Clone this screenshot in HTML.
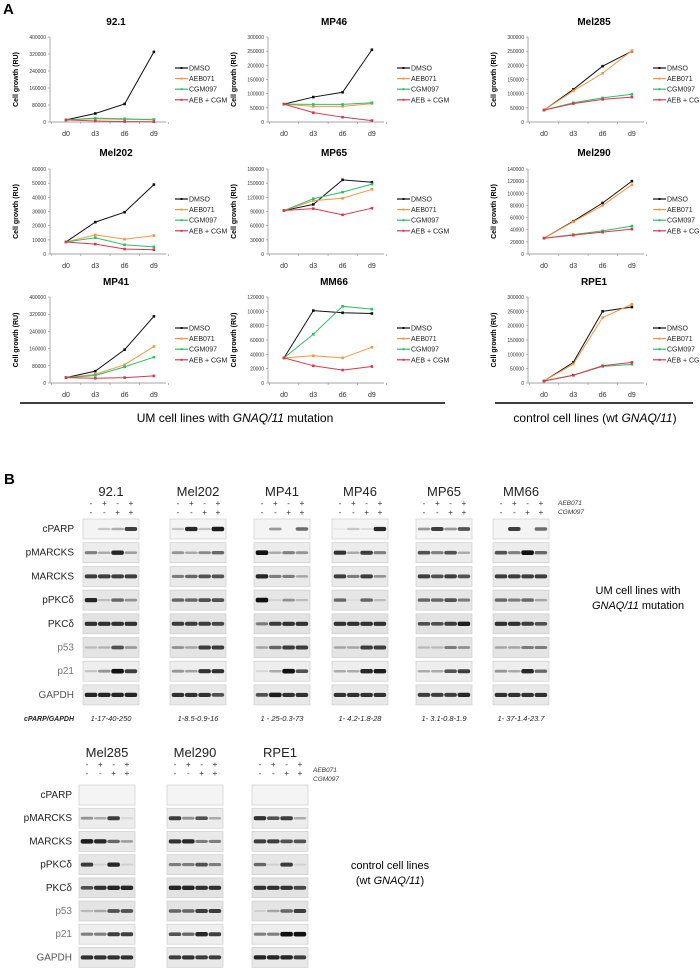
<!DOCTYPE html>
<html><head><meta charset="utf-8">
<style>
html,body{margin:0;padding:0;background:#fff;}
svg{display:block;font-family:"Liberation Sans",Arial,sans-serif;}
</style></head>
<body>
<svg id="fig" width="700" height="968" viewBox="0 0 700 968" xmlns="http://www.w3.org/2000/svg">
<text x="3" y="14" font-size="15" font-weight="bold">A</text>
<text x="4" y="484" font-size="15" font-weight="bold">B</text>
<line x1="20" y1="403" x2="445" y2="403" stroke="#000" stroke-width="1.5"/>
<line x1="495" y1="403" x2="693" y2="403" stroke="#000" stroke-width="1.5"/>
<text x="235" y="422" font-size="12" text-anchor="middle">UM cell lines with <tspan font-style="italic">GNAQ/11</tspan> mutation</text>
<text x="595" y="422" font-size="12" text-anchor="middle">control cell lines (wt <tspan font-style="italic">GNAQ/11</tspan>)</text>
<text x="638" y="594" font-size="11" text-anchor="middle">UM cell lines with</text>
<text x="638" y="609" font-size="11" text-anchor="middle"><tspan font-style="italic">GNAQ/11</tspan> mutation</text>
<text x="390" y="869" font-size="11" text-anchor="middle">control cell lines</text>
<text x="390" y="884" font-size="11" text-anchor="middle">(wt <tspan font-style="italic">GNAQ/11</tspan>)</text>
<text x="74" y="721" font-size="7" font-style="italic" font-weight="bold" text-anchor="end" fill="#222">cPARP/GAPDH</text>
</svg>
<script>
const NS="http://www.w3.org/2000/svg";
const svg=document.getElementById('fig');
function mk(tag,attrs,parent){const e=document.createElementNS(NS,tag);for(const k in attrs)e.setAttribute(k,attrs[k]);(parent||svg).appendChild(e);return e;}

// ---- chart data ----
const days=["d0","d3","d6","d9"];
const seriesNames=["DMSO","AEB071","CGM097","AEB + CGM"];
const seriesColors=["#111111","#f79646","#2fbf6a","#d8394c"];
const panelNames=["92.1","MP46","Mel285","Mel202","MP65","Mel290","MP41","MM66","RPE1"];
const panelMax=[400000,300000,300000,60000,180000,140000,400000,120000,300000];
const panelStep=[80000,50000,50000,10000,30000,20000,80000,20000,50000];
const dmso=[[10000,40000,85000,330000],[63000,88000,105000,255000],[42000,115000,197000,250000],[8500,22500,29500,49000],[92000,105000,157000,152000],[26000,54000,84000,120000],[25000,55000,155000,310000],[35000,101000,98000,97000],[7000,72000,250000,265000]];
const aeb=[[10000,15000,12000,13000],[63000,55000,55000,65000],[42000,110000,172000,252000],[8500,13500,10500,13000],[92000,113000,118000,137000],[26000,53000,80000,114000],[25000,40000,85000,170000],[35000,38000,35000,50000],[7000,66000,228000,275000]];
const cgm=[[10000,18000,15000,10000],[63000,62000,62000,68000],[42000,68000,85000,98000],[8500,11500,6500,5000],[92000,117000,131000,148000],[26000,32000,38000,46000],[25000,35000,75000,120000],[35000,68000,107000,103000],[7000,27000,58000,65000]];
const combo=[[10000,5000,2000,1000],[63000,33000,17000,5000],[42000,65000,80000,88000],[8500,7000,3500,3000],[92000,96000,83000,97000],[26000,31000,36000,41000],[25000,22000,25000,33000],[35000,24000,18000,23000],[7000,27000,60000,72000]];

const colX=[50,268,528], legX=[175,397,653];
const rowTop=[37,169,297], rowBot=[122,254,383], titleY=[25,156,285], legY=[68,199,328];

panelNames.forEach((name,p)=>{
  const c=p%3,r=Math.floor(p/3);
  const x0=colX[c], top=rowTop[r], bot=rowBot[r], W=116;
  const g=mk('g',{});
  
  
  const yS=v=>bot-(v/panelMax[p])*(bot-top);
  const xS=i=>x0+16+i*29.3;
  const t=mk('text',{x:x0+66,y:titleY[r],'font-size':10,'font-weight':'bold','text-anchor':'middle'},g);t.textContent=name;
  
  
  mk('line',{x1:x0,y1:top,x2:x0,y2:bot,stroke:'#888','stroke-width':0.7},g);
  mk('line',{x1:x0,y1:bot,x2:x0+W,y2:bot,stroke:'#888','stroke-width':0.7},g);
  for(let v=0;v<=panelMax[p]+1;v+=panelStep[p]){
    const y=yS(v);
    mk('line',{x1:x0-2,y1:y,x2:x0,y2:y,stroke:'#888','stroke-width':0.6},g);
    const tl=mk('text',{x:x0-4,y:y+2,'font-size':5,'text-anchor':'end',fill:'#333'},g);tl.textContent=v;
    
    
  }
  for(let i=0;i<=4;i++){const x=x0+1.5+i*29.3;mk('line',{x1:x,y1:bot,x2:x,y2:bot+2,stroke:'#888','stroke-width':0.6},g);}
  days.forEach((d,i)=>{const tl=mk('text',{x:xS(i),y:bot+14,'font-size':7,'text-anchor':'middle',fill:'#333'},g);tl.textContent=d;
    
    });
  const yl=mk('text',{x:0,y:0,'font-size':7,'font-weight':'bold','text-anchor':'middle',transform:`translate(${x0-32},${(top+bot)/2}) rotate(-90)`},g);
  yl.textContent='Cell growth (RU)';
  
  
  [dmso,aeb,cgm,combo].forEach((ser,s)=>{
    const vals=ser[p];
    const pl=mk('polyline',{points:vals.map((v,i)=>xS(i)+','+yS(v)).join(' '),fill:'none',stroke:seriesColors[s],'stroke-width':1},g);
    
    
    vals.forEach((v,i)=>{const m=mk('rect',{x:xS(i)-1.3,y:yS(v)-1.3,width:2.6,height:2.6,fill:seriesColors[s]},g);
      
      });
    const ly=legY[r]+s*10.6;
    const lg=mk('g',{},g);
    
    
    mk('line',{x1:legX[c],y1:ly,x2:legX[c]+13,y2:ly,stroke:seriesColors[s],'stroke-width':1.2},lg);
    mk('rect',{x:legX[c]+5.5,y:ly-1,width:2,height:2,fill:seriesColors[s]},lg);
    const lt=mk('text',{x:legX[c]+14,y:ly+2.5,'font-size':7,fill:'#222'},lg);lt.textContent=seriesNames[s];
  });
});

// ---- western blots ----
const proteins=["cPARP","pMARCKS","MARCKS","pPKCδ","PKCδ","p53","p21","GAPDH"];
const proteinColors=["#222","#222","#222","#222","#222","#777","#777","#555"];
const blotLines=["92.1","Mel202","MP41","MP46","MP65","MM66","Mel285","Mel290","RPE1"];
const ratios=["1-17-40-250","1-8.5-0.9-16","1 - 25-0.3-73","1- 4.2-1.8-28","1- 3.1-0.8-1.9","1- 37-1.4-23.7"];
const bands=[
 [[0,.2,.3,.8],[.5,.3,.9,.35],[.8,.8,.8,.8],[.9,.2,.6,.4],[.85,.85,.85,.85],[.2,.25,.7,.35],[.2,.4,1,.8],[.9,.9,.9,.9]],
 [[.2,.9,.2,.95],[.4,.3,.45,.6],[.5,.6,.7,.7],[.6,.6,.7,.7],[.8,.8,.8,.75],[.4,.3,.8,.8],[.4,.35,.85,.85],[.85,.85,.85,.7]],
 [[0,.4,0,.6],[1,.3,.5,.4],[.9,.5,.5,.3],[1,.1,.4,.2],[.5,.8,.85,.85],[.3,.6,.8,.8],[.1,.3,1,.7],[.7,.95,.85,.85]],
 [[.05,.2,.1,.9],[.85,.3,.8,.5],[.8,.5,.8,.4],[.6,.05,.6,.2],[.85,.85,.85,.85],[.3,.3,.8,.8],[.3,.3,.9,.95],[.85,.85,.85,.85]],
 [[.4,.8,.4,.7],[.7,.5,.7,.3],[.8,.7,.8,.7],[.6,.6,.7,.5],[.7,.7,.8,.95],[.2,.2,.5,.4],[.3,.3,.7,.8],[.8,.8,.8,.9]],
 [[0,.8,0,.6],[.7,.5,1,.6],[.8,.8,.8,.8],[.6,.5,.6,.3],[.85,.85,.8,.7],[.3,.3,.5,.5],[.4,.3,.9,.6],[.85,.85,.85,.85]],
 [[0,0,0,0],[.4,.3,.8,.1],[.95,.9,.6,.35],[.8,.1,.9,.1],[.7,.85,.9,.9],[.2,.3,.7,.7],[.5,.5,.8,.8],[.85,.85,.85,.85]],
 [[0,0,0,0],[.8,.4,.7,.3],[.85,.9,.5,.5],[.5,.5,.7,.5],[.9,.9,.85,.85],[.6,.6,.8,.8],[.7,.6,.9,.8],[.8,.85,.8,.8]],
 [[0,0,0,0],[.85,.7,.8,.3],[.8,.8,.7,.7],[.6,.1,.8,.1],[.85,.85,.85,.75],[.1,.3,.6,.8],[.5,.5,1,1],[.9,.9,.9,.8]]
];
const blotX=[83,170,254,332,416,493,79,167,252];
const setTop=[519,785], setStep=[23.7,23.2], setTitleY=[496,757], setLabelX=[74,72];
const bgShade=["#f4f4f4","#ececec","#e9e9e9","#e6e6e6","#e2e2e2","#e4e4e4","#eeeeee","#e8e8e8"];

[0,1].forEach(set=>{
  const top=setTop[set], st=setStep[set];
  proteins.forEach((pr,k)=>{
    const t=mk('text',{x:setLabelX[set],y:top+k*st+13,'font-size':10,'text-anchor':'end',fill:proteinColors[k]});
    t.textContent=pr;
    
    
  });
  const lx=set===0?558:313, ly=set===0?503:770;
  const a=mk('text',{x:lx,y:ly+2,'font-size':6.5,'font-style':'italic',fill:'#333'});a.textContent='AEB071';
  
  
  const b=mk('text',{x:lx,y:ly+11,'font-size':6.5,'font-style':'italic',fill:'#333'});b.textContent='CGM097';
  
  
});

blotLines.forEach((name,L)=>{
  const set=L<6?0:1, top=setTop[set], st=setStep[set], x0=blotX[L], W=56;
  const g=mk('g',{});
  
  
  const t=mk('text',{x:x0+W/2,y:setTitleY[set],'font-size':13,'text-anchor':'middle',fill:'#222'},g);t.textContent=name;
  const aebS=["-","+","-","+"], cgmS=["-","-","+","+"];
  for(let i=0;i<4;i++){
    const lx=x0+8+i*13.3;
    const s1=mk('text',{x:lx,y:setTitleY[set]+10,'font-size':8,'text-anchor':'middle',fill:'#333'},g);s1.textContent=aebS[i];
    const s2=mk('text',{x:lx,y:setTitleY[set]+19,'font-size':8,'text-anchor':'middle',fill:'#333'},g);s2.textContent=cgmS[i];
  }
  proteins.forEach((pr,k)=>{
    const y=top+k*st;
    mk('rect',{x:x0,y:y,width:W,height:20,fill:bgShade[k],stroke:'#c8c8c8','stroke-width':0.6},g);
    for(let i=0;i<4;i++){
      const v=bands[L][k][i];
      if(v<=0.02)continue;
      const lx=x0+8+i*13.3;
      const e=mk('rect',{x:lx-6.3,y:y+10-(0.8+v*1.5),width:12.6,height:2*(0.8+v*1.5),rx:2,fill:'#111','fill-opacity':Math.min(1,v)},g);
      
      
    }
  });
  if(L<6){
    const rt=mk('text',{x:x0+W/2,y:721,'font-size':7.5,'font-style':'italic','text-anchor':'middle',fill:'#222'},g);
    rt.textContent=ratios[L];
    
    
  }
});
</script>
</body></html>
